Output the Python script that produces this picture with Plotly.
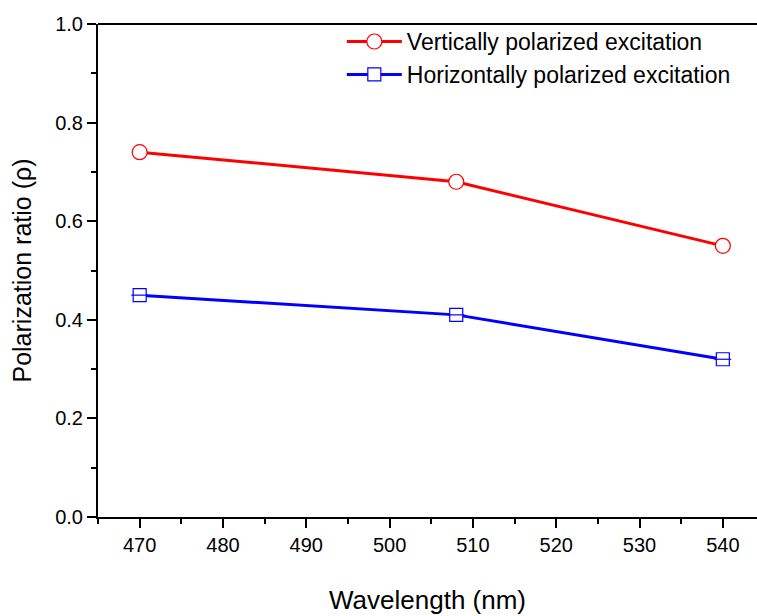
import plotly.graph_objects as go

# wavelengths (nm) and polarization ratios
wavelength = [470, 508, 540]
rho_vertical = [0.74, 0.68, 0.55]
rho_horizontal = [0.45, 0.41, 0.32]

vertical_name = 'Vertically polarized excitation'
horizontal_name = 'Horizontally polarized excitation'

font = 'Liberation Sans, Arial, sans-serif'

fig = go.Figure()

fig.add_trace(go.Scatter(
    x=wavelength, y=rho_vertical, name=vertical_name,
    mode='lines+markers',
    line=dict(color='#ff0000', width=3),
    marker=dict(symbol='circle', size=15, color='white',
                line=dict(color='#ff0000', width=1.2)),
))

fig.add_trace(go.Scatter(
    x=wavelength, y=rho_horizontal, name=horizontal_name,
    mode='lines+markers',
    line=dict(color='#0000ff', width=3),
    marker=dict(symbol='square', size=13, color='white',
                line=dict(color='#0000ff', width=1.2)),
))

# horizontal bar through the square markers
fig.add_trace(go.Scatter(
    x=wavelength, y=rho_horizontal, mode='markers', showlegend=False,
    hoverinfo='skip',
    marker=dict(symbol='line-ew', size=12, line=dict(color='#0000ff', width=1.2)),
))

fig.update_layout(
    width=757, height=616,
    margin=dict(l=98, r=0, t=24, b=99),
    paper_bgcolor='white', plot_bgcolor='white',
    font=dict(family=font, color='black', size=20),
    showlegend=True,
    legend=dict(x=0.37, y=1.008, xanchor='left', yanchor='top',
                bgcolor='rgba(0,0,0,0)', font=dict(family=font, size=23),
                tracegroupgap=0, itemwidth=55),
)

fig.update_xaxes(
    range=[465, 544.1], showgrid=False, zeroline=False,
    showline=True, linecolor='black', linewidth=2, mirror=False,
    ticks='outside', ticklen=9, tickwidth=2, tickcolor='black',
    tick0=470, dtick=10, tickfont=dict(family=font, size=20),
    minor=dict(ticks='outside', ticklen=5, tickwidth=2, tickcolor='black', dtick=5, tick0=465),
    title=dict(text='Wavelength (nm)', font=dict(family=font, size=26), standoff=36),
)

fig.update_yaxes(
    range=[0, 1.0], showgrid=False, zeroline=False,
    showline=True, linecolor='black', linewidth=2,
    ticks='outside', ticklen=9, tickwidth=2, tickcolor='black',
    tick0=0, dtick=0.2, tickformat='.1f', tickfont=dict(family=font, size=20),
    minor=dict(ticks='outside', ticklen=5, tickwidth=2, tickcolor='black', dtick=0.1),
    title=dict(text='Polarization ratio (ρ)', font=dict(family=font, size=25), standoff=16),
)

# top frame line
fig.add_shape(type='line', xref='paper', yref='paper', x0=0, x1=1, y0=1, y1=1,
              line=dict(color='black', width=2))

# drop the default body margin so the figure sits at the page corner
fig.write_html('out.html', config={'displayModeBar': False},
               post_script="document.body.style.margin='0';")
